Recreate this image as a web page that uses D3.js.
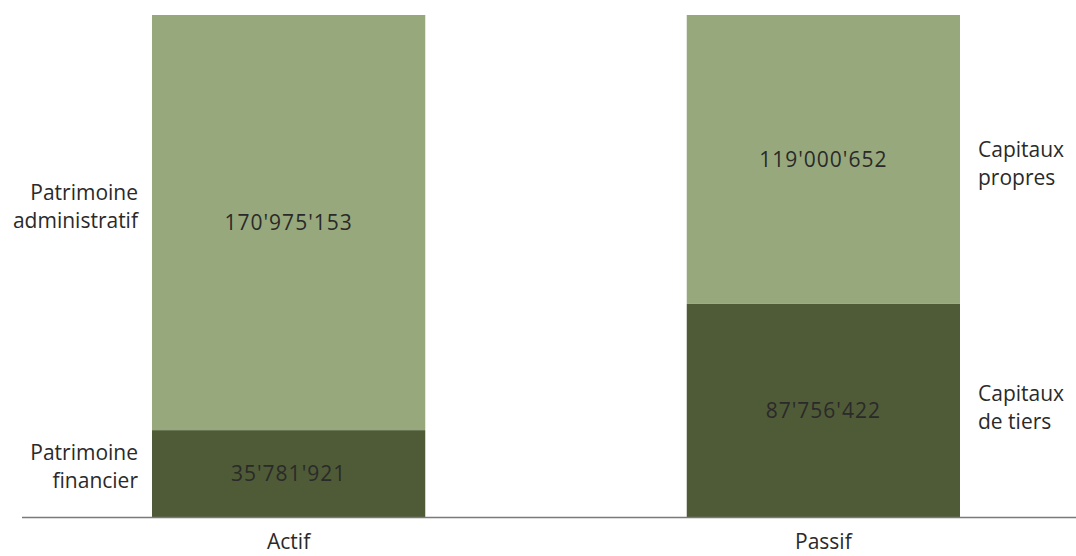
<!DOCTYPE html>
<html>
<head>
<meta charset="utf-8">
<script src="https://cdn.jsdelivr.net/npm/d3@7"></script>
<style>
  html, body { margin: 0; padding: 0; background: #fff; }
  text { font-family: "Open Sans", "Noto Sans", sans-serif; fill: #2a2a2a; }
</style>
</head>
<body>
<div id="chart"></div>
<script>
// Données
const categories = ["Actif", "Passif"];
const bottomValues = [35781921, 87756422];   // patrimoine financier / capitaux de tiers
const topValues = [170975153, 119000652];    // patrimoine administratif / capitaux propres
const bottomLabels = [["Patrimoine", "financier"], ["Capitaux", "de tiers"]];
const topLabels = [["Patrimoine", "administratif"], ["Capitaux", "propres"]];

const width = 1076, height = 556;
const colTop = "#97a97c", colBottom = "#4f5b37";
// décalage vertical des étiquettes de côté (1re ligne par rapport au milieu du segment)
const labelShift = [[-14, -23], [-9, -2]];
const lineGap = 28;

const svg = d3.select("#chart").append("svg")
    .attr("width", width)
    .attr("height", height);

const x = d3.scaleBand()
    .domain(categories)
    .range([152, 960])
    .paddingInner(0.489)
    .paddingOuter(0);

const maxTotal = d3.max(categories, (c, i) => bottomValues[i] + topValues[i]);
const y = d3.scaleLinear()
    .domain([0, maxTotal])
    .range([517, 15]);

const fmt = v => d3.format(",")(v).replace(/,/g, "'");

categories.forEach((c, i) => {
    const segs = [
        {y0: 0, y1: bottomValues[i], fill: colBottom, label: bottomLabels[i]},
        {y0: bottomValues[i], y1: bottomValues[i] + topValues[i], fill: colTop, label: topLabels[i]}
    ];
    segs.forEach((s, j) => {
        svg.append("rect")
            .attr("x", x(c))
            .attr("y", y(s.y1))
            .attr("width", x.bandwidth())
            .attr("height", y(s.y0) - y(s.y1))
            .attr("fill", s.fill);

        const mid = (y(s.y0) + y(s.y1)) / 2;
        svg.append("text")
            .attr("x", x(c) + x.bandwidth() / 2)
            .attr("y", mid)
            .attr("dy", "0.35em")
            .attr("text-anchor", "middle")
            .attr("font-size", 21)
            .style("letter-spacing", "1px")
            .text(fmt(s.y1 - s.y0));

        // étiquettes de côté, une ligne par élément texte
        const left = i === 0;
        const lx = left ? x(c) - 14 : x(c) + x.bandwidth() + 18;
        s.label.forEach((l, k) => {
            svg.append("text")
                .attr("x", lx)
                .attr("y", mid + labelShift[i][j] + k * lineGap)
                .attr("text-anchor", left ? "end" : "start")
                .attr("font-size", 21)
                .text(l);
        });
    });
});

// ligne de base
svg.append("line")
    .attr("x1", 22).attr("x2", width)
    .attr("y1", 517.5).attr("y2", 517.5)
    .attr("stroke", "#7a7a7a")
    .attr("stroke-width", 1.5);

// étiquettes des catégories
svg.selectAll("text.cat")
    .data(categories)
    .join("text")
    .attr("class", "cat")
    .attr("x", d => x(d) + x.bandwidth() / 2)
    .attr("y", 549)
    .attr("text-anchor", "middle")
    .attr("font-size", 21)
    .text(d => d);
</script>
</body>
</html>
